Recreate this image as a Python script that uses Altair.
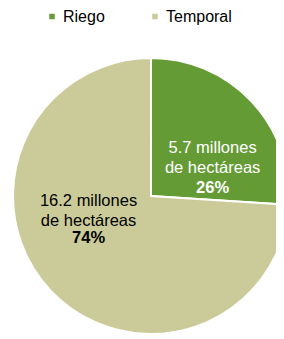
import altair as alt
import pandas as pd

categories = ["Riego", "Temporal"]
values = [5.7, 16.2]
order_idx = [0, 1]
colors = ["#659b35", "#cbcb99"]

df = pd.DataFrame({"cat": categories, "value": values, "idx": order_idx})

FONT = "Liberation Sans"
FS = 16.5
CX, CY = 143, 188

color = alt.Color(
    "cat:N",
    scale=alt.Scale(domain=categories, range=colors),
    sort=categories,
    legend=alt.Legend(
        title=None, orient="none", legendX=36, legendY=0.5, direction="horizontal",
        symbolType="square", symbolSize=30, symbolStrokeWidth=0,
        labelFontSize=16, labelFont=FONT, labelColor="#000",
        columnPadding=42, labelOffset=3,
    ),
)

base = alt.Chart(df)

pie = base.mark_arc(radius=138, stroke="white", strokeWidth=2).encode(
    theta=alt.Theta("value:Q", stack=True),
    order=alt.Order("idx:Q"),
    color=color,
    x=alt.value(CX),
    y=alt.value(CY),
)

prep = (
    base.transform_joinaggregate(total="sum(value)")
    .transform_window(cum="sum(value)", sort=[alt.SortField("idx")])
    .transform_calculate(
        mid="2 * PI * (datum.cum - datum.value / 2) / datum.total",
        pct="format(datum.value / datum.total, '.0%')",
        lines="[format(datum.value, '.1f') + ' millones', 'de hectáreas']",
    )
)


def labels(cat, r, dx, dy_lines, dy_pct, fill):
    sub = prep.transform_filter(alt.datum.cat == cat)
    enc = dict(
        theta=alt.Theta("mid:Q", scale=None, stack=None),
        radius=alt.value(r),
        x=alt.value(CX),
        y=alt.value(CY),
    )
    t1 = sub.mark_text(
        font=FONT, fontSize=FS, lineHeight=20, align="center", baseline="middle",
        fill=fill, dx=dx, dy=dy_lines,
    ).encode(text="lines:N", **enc)
    t2 = sub.mark_text(
        font=FONT, fontSize=FS, fontWeight="bold", align="center", baseline="middle",
        fill=fill, dx=dx, dy=dy_pct,
    ).encode(text="pct:N", **enc)
    return t1 + t2


chart = (
    alt.layer(
        pie,
        labels("Riego", 68, 12, -1, 38.5, "white"),
        labels("Temporal", 63, -16.5, -38.5, -1, "black"),
    )
    .resolve_scale(theta="independent")
    .properties(width=268, height=331, padding=0, autosize=alt.AutoSizeParams(type="none"))
    .configure_view(stroke=None)
)

chart.save("out.html", embed_options={"renderer": "svg", "actions": False})
